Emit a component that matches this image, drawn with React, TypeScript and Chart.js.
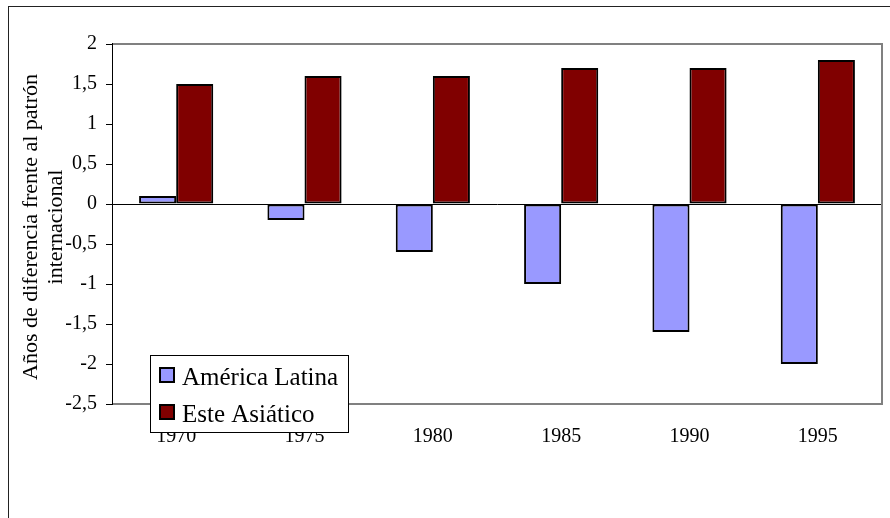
import React, { useEffect, useRef } from "react";
import { Chart, registerables } from "chart.js";

Chart.register(...registerables);

const years = ["1970", "1975", "1980", "1985", "1990", "1995"];
const americaLatina = [0.1, -0.2, -0.6, -1.0, -1.6, -2.0];
const esteAsiatico = [1.5, 1.6, 1.6, 1.7, 1.7, 1.8];
const seriesNames = ["América Latina", "Este Asiático"];
const seriesColors = ["#9999FF", "#800000"];
const yTitleLines = ["Años de diferencia frente al patrón", "internacional"];

const FONT = "'Liberation Serif', 'Times New Roman', serif";

const framePlugin = {
  id: "frame",
  beforeDraw(chart: any) {
    const ctx = chart.ctx;
    ctx.save();
    ctx.fillStyle = "#fff";
    ctx.fillRect(0, 0, chart.width, chart.height);
    ctx.strokeStyle = "#222";
    ctx.lineWidth = 1;
    ctx.strokeRect(8.5, 6.5, chart.width + 10, chart.height + 10);
    ctx.restore();
  },
  afterDraw(chart: any) {
    const ctx = chart.ctx;
    const a = chart.chartArea;
    ctx.save();
    // plot-area border (top, right, bottom)
    ctx.strokeStyle = "#808080";
    ctx.lineWidth = 2;
    ctx.beginPath();
    ctx.moveTo(a.left, a.top);
    ctx.lineTo(a.right, a.top);
    ctx.lineTo(a.right, a.bottom);
    ctx.lineTo(a.left, a.bottom);
    ctx.stroke();
    // left axis line on top
    ctx.strokeStyle = "#000";
    ctx.lineWidth = 1;
    ctx.beginPath();
    ctx.moveTo(a.left + 0.5, a.top - 1);
    ctx.lineTo(a.left + 0.5, a.bottom + 1);
    ctx.stroke();

    // y-axis title
    ctx.fillStyle = "#000";
    ctx.font = `22px ${FONT}`;
    ctx.textAlign = "center";
    ctx.textBaseline = "alphabetic";
    const cy = 227;
    const baselines = [37, 62];
    yTitleLines.forEach((t, i) => {
      ctx.save();
      ctx.translate(baselines[i], cy);
      ctx.rotate(-Math.PI / 2);
      ctx.fillText(t, 0, 0);
      ctx.restore();
    });

    // legend
    const lx = 150, ly = 355, lw = 198, lh = 77;
    ctx.fillStyle = "#fff";
    ctx.fillRect(lx, ly, lw, lh);
    ctx.strokeStyle = "#000";
    ctx.lineWidth = 1;
    ctx.strokeRect(lx + 0.5, ly + 0.5, lw, lh);
    ctx.font = `25px ${FONT}`;
    ctx.textAlign = "left";
    chart.data.datasets.forEach((ds: any, i: number) => {
      const by = 385 + i * 37;
      ctx.fillStyle = ds.backgroundColor;
      ctx.fillRect(160, by - 17, 14, 14);
      ctx.strokeStyle = "#000";
      ctx.lineWidth = 2;
      ctx.strokeRect(160, by - 17, 14, 14);
      ctx.fillStyle = "#000";
      ctx.fillText(ds.label, 182, by);
    });
    ctx.restore();
  },
};

export default function App() {
  const ref = useRef<HTMLCanvasElement | null>(null);
  useEffect(() => {
    if (!ref.current) return;
    const chart = new Chart(ref.current, {
      type: "bar",
      data: {
        labels: years,
        datasets: [
          {
            label: seriesNames[0],
            data: americaLatina,
            backgroundColor: seriesColors[0],
            borderColor: "#000",
            borderWidth: 2,
            borderSkipped: false,
          },
          {
            label: seriesNames[1],
            data: esteAsiatico,
            backgroundColor: seriesColors[1],
            borderColor: "#000",
            borderWidth: 2,
            borderSkipped: false,
          },
        ],
      },
      options: {
        responsive: false,
        animation: false,
        events: [],
        layout: { padding: { top: 44, right: 8, left: 0, bottom: 0 } },
        datasets: { bar: { categoryPercentage: 0.578, barPercentage: 1.0 } },
        plugins: {
          legend: { display: false },
          tooltip: { enabled: false },
          title: { display: false },
        },
        scales: {
          x: {
            grid: { display: false, drawTicks: false },
            border: { display: false },
            ticks: {
              color: "#000",
              font: { family: FONT, size: 20 },
              padding: 21,
              maxRotation: 0,
            },
            afterFit(s: any) {
              s.height = 114;
            },
          },
          y: {
            min: -2.5,
            max: 2,
            grid: {
              color: (c: any) => (c.tick && c.tick.value === 0 ? "#000" : "rgba(0,0,0,0)"),
              tickColor: "#000",
              tickLength: 6,
              lineWidth: 1,
            },
            border: { display: true, color: "#000", width: 1 },
            ticks: {
              stepSize: 0.5,
              color: "#000",
              padding: 9,
              font: { family: FONT, size: 20 },
              callback: (v: any) => String(v).replace(".", ","),
            },
            afterFit(s: any) {
              s.width = 112;
            },
          },
        },
      },
      plugins: [framePlugin],
    });
    return () => chart.destroy();
  }, []);
  return (
    <div style={{ position: "fixed", left: 0, top: 0, width: 890, height: 518 }}>
      <canvas ref={ref} width={890} height={518} style={{ display: "block" }} />
    </div>
  );
}
